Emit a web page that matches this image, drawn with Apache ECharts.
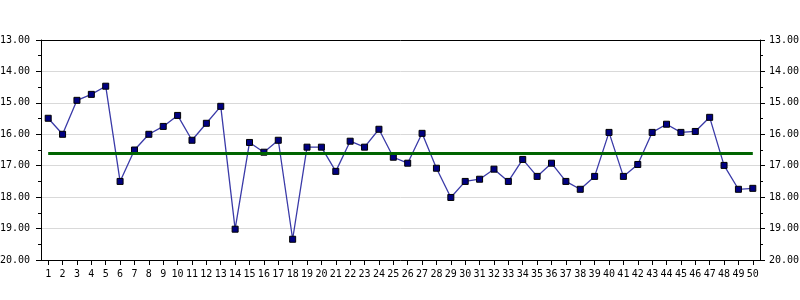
<!DOCTYPE html>
<html>
<head>
<meta charset="utf-8">
<script src="https://cdn.jsdelivr.net/npm/echarts@6/dist/echarts.min.js"></script>
<style>html,body{margin:0;padding:0;background:#fff;}#c{width:800px;height:300px;}</style>
</head>
<body>
<div id="c"></div>
<script>
const categories = ['1','2','3','4','5','6','7','8','9','10','11','12','13','14','15','16','17','18','19','20','21','22','23','24','25','26','27','28','29','30','31','32','33','34','35','36','37','38','39','40','41','42','43','44','45','46','47','48','49','50'];
const values = [15.49,16.00,14.92,14.73,14.47,17.50,16.50,16.00,15.75,15.40,16.19,15.65,15.11,19.02,16.26,16.57,16.19,19.34,16.41,16.41,17.18,16.22,16.41,15.84,16.73,16.92,15.97,17.08,18.01,17.50,17.43,17.11,17.50,16.80,17.34,16.92,17.50,17.75,17.34,15.94,17.34,16.96,15.94,15.68,15.94,15.91,15.46,16.99,17.75,17.72];
const meanValue = 16.6;
const yMin = 13, yMax = 20, yStep = 1;

const font = 'DejaVu Sans Mono';
function yAxisCfg(pos, margin) {
  return {
    type: 'value', position: pos, inverse: true, min: yMin, max: yMax, interval: yStep,
    axisLine: { show: true, lineStyle: { color: '#000', width: 1 } },
    axisTick: { show: true, length: 5, lineStyle: { color: '#000' } },
    minorTick: { show: true, splitNumber: 2, length: 3, lineStyle: { color: '#000' } },
    axisLabel: { margin: margin, fontFamily: font, fontSize: 10, color: '#000', formatter: v => v.toFixed(2) },
    splitLine: { show: pos === 'left', lineStyle: { color: '#d9d9d9', width: 1 } }
  };
}
const chart = echarts.init(document.getElementById('c'), null, { renderer: 'canvas' });
chart.setOption({
  animation: false,
  backgroundColor: '#fff',
  grid: { left: 41, right: 40, top: 40, bottom: 40, containLabel: false, outerBoundsMode: 'none', show: false },
  xAxis: [{
    type: 'category', data: categories, boundaryGap: true, position: 'bottom',
    axisLine: { lineStyle: { color: '#000', width: 1 } },
    axisTick: { show: true, alignWithLabel: true, length: 5, lineStyle: { color: '#000' } },
    axisLabel: { interval: 0, margin: 9, fontFamily: font, fontSize: 10, color: '#000' },
    splitLine: { show: false }
  }, {
    type: 'category', data: categories, boundaryGap: true, position: 'top',
    axisLine: { show: true, lineStyle: { color: '#000', width: 1 } },
    axisTick: { show: false }, axisLabel: { show: false }, splitLine: { show: false }
  }],
  yAxis: [yAxisCfg('left', 11), yAxisCfg('right', 9)],
  series: [{
    type: 'line', data: values, xAxisIndex: 0, yAxisIndex: 0,
    symbol: 'rect', symbolSize: 6,
    itemStyle: { color: '#000080', borderColor: '#000', borderWidth: 1 },
    lineStyle: { color: '#3a3aa8', width: 1.3 },
    markLine: {
      silent: true, symbol: 'none', label: { show: false },
      lineStyle: { color: '#006400', width: 3, type: 'solid' },
      data: [[{ coord: [categories[0], meanValue] }, { coord: [categories[categories.length - 1], meanValue] }]]
    },
    z: 3
  }]
});
</script>
</body>
</html>
